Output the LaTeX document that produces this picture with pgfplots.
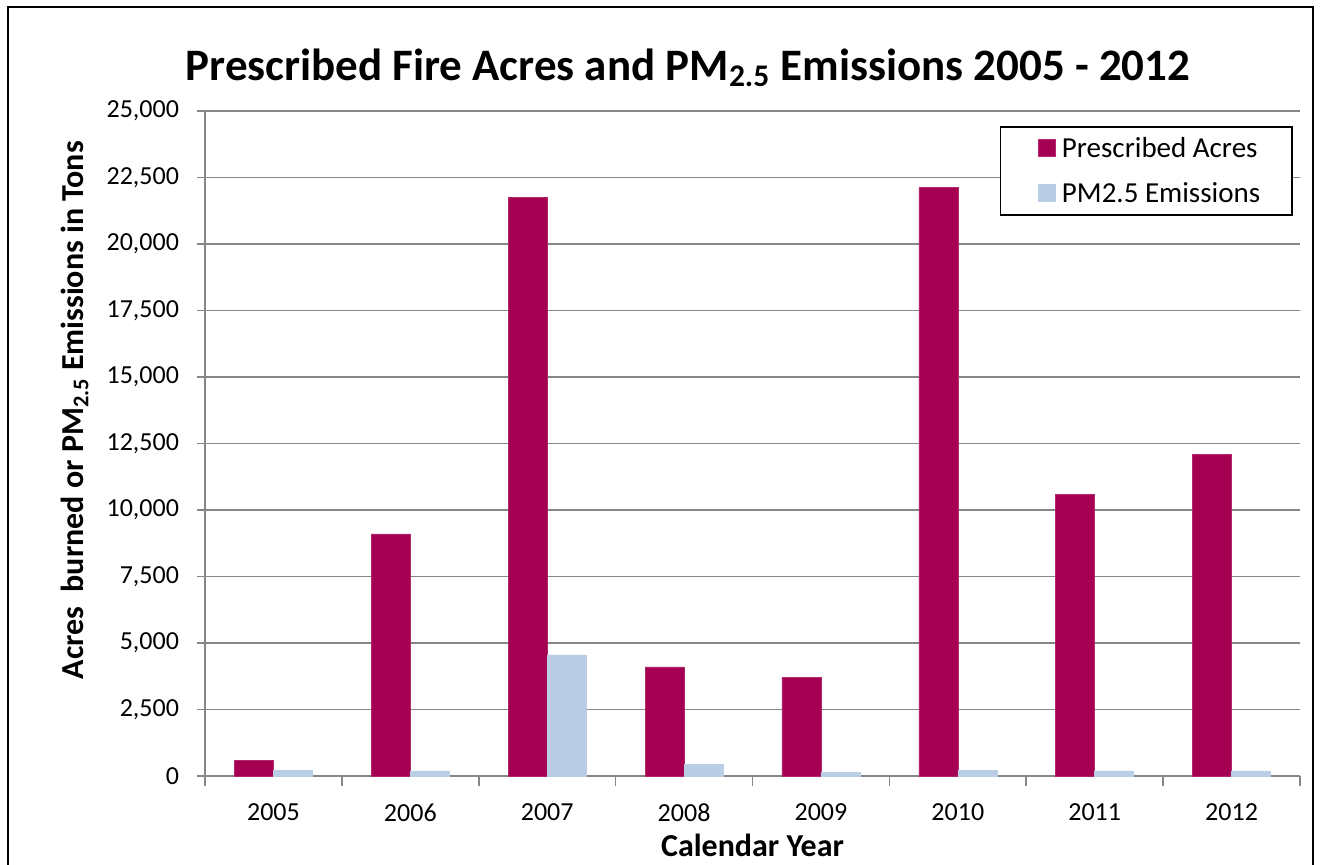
\documentclass[border=0pt]{standalone}
\usepackage{pgfplots}
\pgfplotsset{compat=1.18}
\usepackage{fontspec}
\setmainfont{Carlito}

\definecolor{acres}{HTML}{A50052}
\definecolor{pm}{HTML}{B9CDE5}
\definecolor{gridgray}{HTML}{868686}

% 1 px of the reference = 0.5bp
\begin{document}
\begin{tikzpicture}
\useasboundingbox (0,0) rectangle (660.5bp,-432.5bp);
\draw[black, line width=1bp] (4bp,-3.5bp) rectangle (656.5bp,-450bp);
\begin{axis}[
    at={(102.5bp,-388bp)}, anchor=south west,
    scale only axis,
    width=547.5bp, height=332.5bp,
    ybar=0pt, bar width=19.5bp,
    xmin=-0.5, xmax=7.5,
    ymin=0, ymax=25000,
    xtick={0,...,7},
    xticklabels={2005,2006,2007,2008,2009,2010,2011,2012},
    major x tick style={draw=none},
    minor xtick={-0.5,0.5,...,7.5},
    minor x tick style={gridgray, line width=0.8bp},
    minor tick length=5bp,
    ytick={0,2500,...,25000},
    major tick length=4bp,
    tick align=outside,
    y tick style={gridgray, line width=0.8bp},
    scaled y ticks=false,
    /pgf/number format/.cd, fixed, 1000 sep={,}, assume math mode=true,
    /pgfplots/.cd,
    ymajorgrids,
    grid style={gridgray, line width=0.7bp},
    axis x line*=bottom, axis y line*=left,
    x axis line style={gridgray, line width=1.2bp, -},
    y axis line style={gridgray, line width=0.8bp, -},
    ticklabel style={font=\fontsize{13bp}{15bp}\selectfont, text=black},
    yticklabel style={xshift=-5.5bp},
    xticklabel style={yshift=-6.5bp},
    title={Prescribed Fire Acres and PM\textsubscript{2.5} Emissions 2005 - 2012},
    title style={font=\bfseries\fontsize{22.5bp}{27bp}\selectfont,
        at={(axis description cs:0.441,1.047)}, anchor=center},
    xlabel={Calendar Year},
    ylabel={Acres\ \ burned or PM\textsubscript{2.5} Emissions in Tons},
    label style={font=\bfseries\fontsize{16bp}{19bp}\selectfont},
    xlabel style={at={(axis description cs:0.5,-0.104)}, anchor=center},
    ylabel style={at={(axis description cs:-0.119,0.55)}, anchor=center, rotate=0},
    legend style={at={(axis description cs:0.9936,0.977)}, anchor=north east,
        draw=black, line width=0.8bp, fill=white,
        font=\fontsize{14.5bp}{17bp}\selectfont,
        inner xsep=14bp, inner ysep=3bp, row sep=7bp},
    legend cell align=left,
    legend image code/.code={\fill[#1] (0bp,-3.8bp) rectangle (8.5bp,4.7bp);
        \path (-5bp,0bp) (9.5bp,0bp);},
]
\addplot[fill=acres, draw=acres!85!white, line width=0.3bp] coordinates {
    (0,600) (1,9100) (2,21750) (3,4100) (4,3720) (5,22130) (6,10600) (7,12100)};
\addplot[fill=pm, draw=pm, line width=0.3bp] coordinates {
    (0,225) (1,190) (2,4550) (3,450) (4,150) (5,225) (6,190) (7,190)};
\legend{Prescribed Acres, PM2.5 Emissions}
\end{axis}
\end{tikzpicture}
\end{document}
